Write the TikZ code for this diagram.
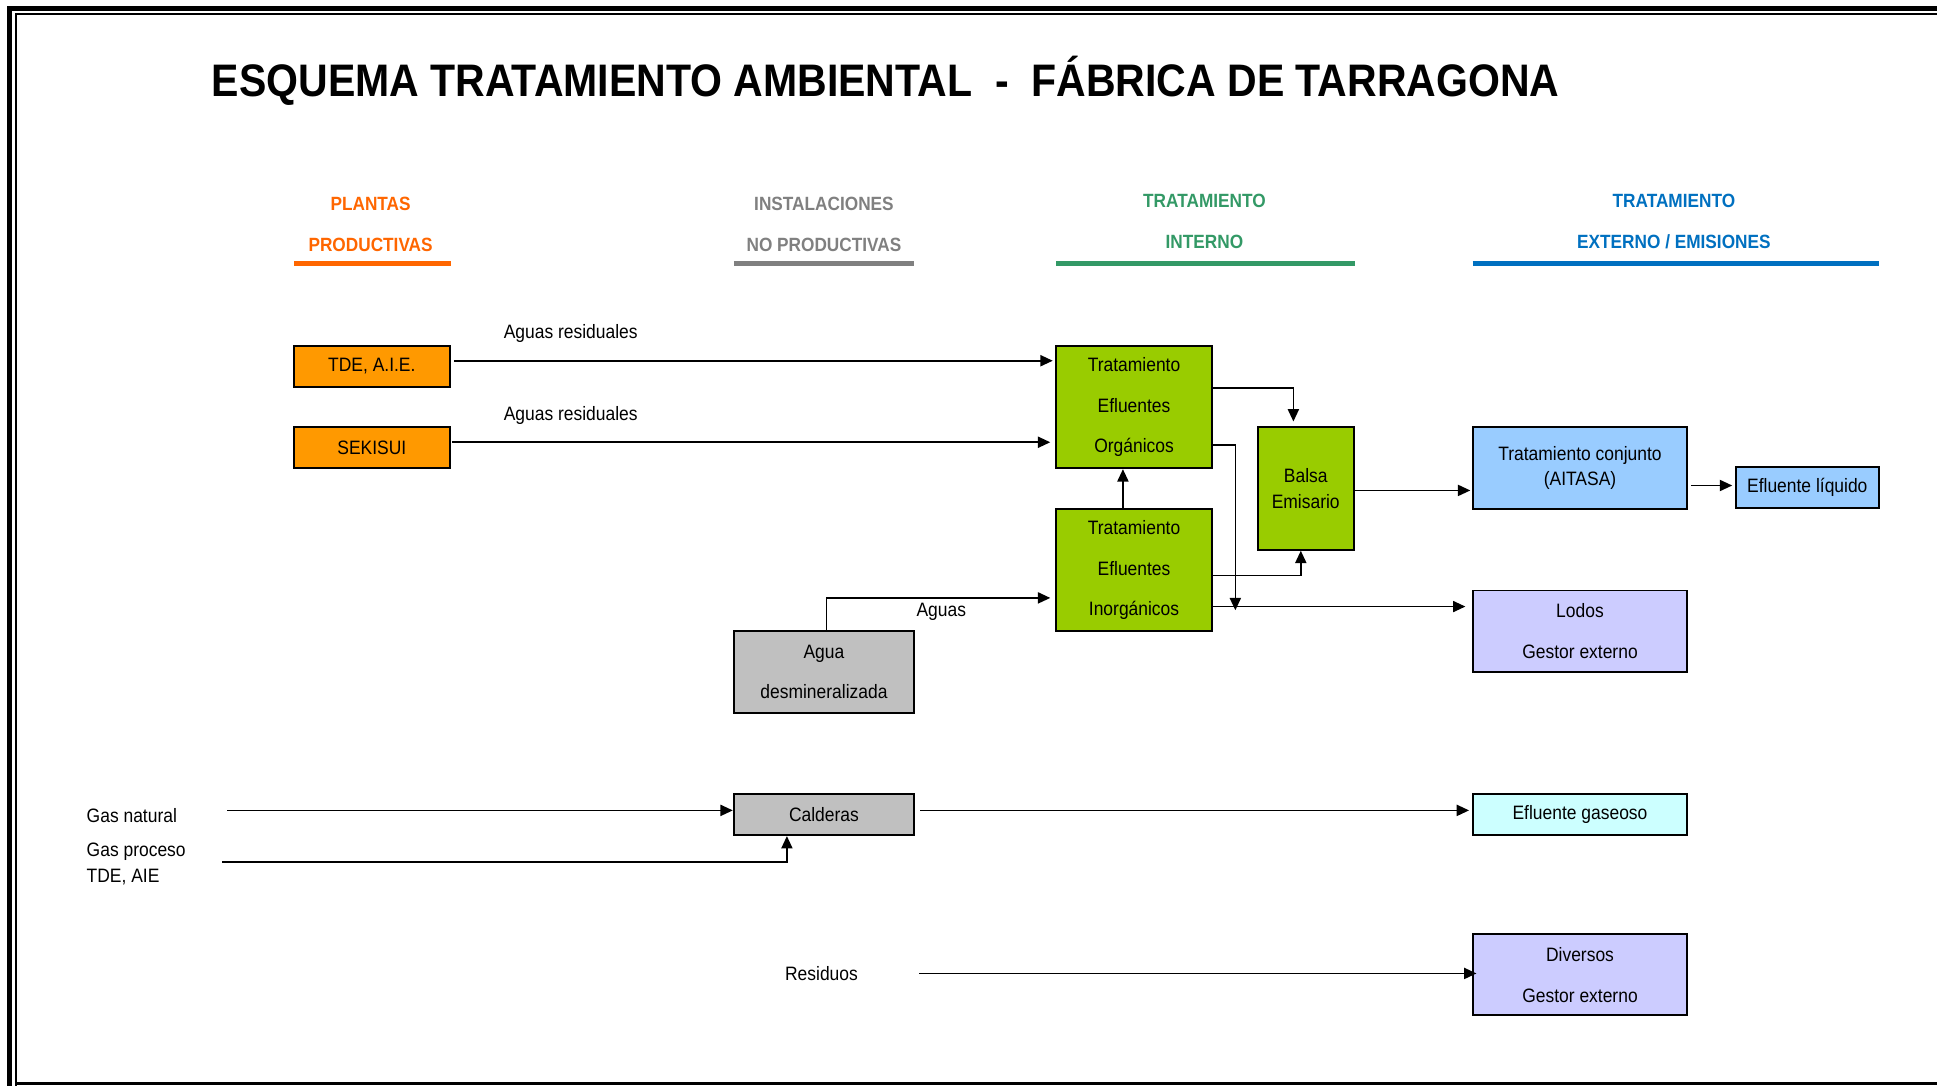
\documentclass[tikz,border=0pt]{standalone}
\usepackage{fontspec}
\setmainfont{Liberation Sans}[FakeStretch=0.9]
\usetikzlibrary{arrows.meta,positioning}

\definecolor{naranjaTxt}{HTML}{FF6600}
\definecolor{grisTxt}{HTML}{808080}
\definecolor{verdeTxt}{HTML}{339966}
\definecolor{azulTxt}{HTML}{0070C0}
\definecolor{naranja}{HTML}{FF9900}
\definecolor{verde}{HTML}{99CC00}
\definecolor{azul}{HTML}{99CCFF}
\definecolor{lila}{HTML}{CCCCFF}
\definecolor{celeste}{HTML}{CCFFFF}
\definecolor{gris}{HTML}{C0C0C0}

\begin{document}
\begin{tikzpicture}[
        x=1pt, y=-1pt,
        caja/.style={rectangle, draw=black, line width=1.6pt, inner sep=0pt, text centered, align=center, font=\fontsize{15.7}{33}\selectfont},
        cajaJunta/.style={caja, font=\fontsize{15.7}{20.5}\selectfont},
        planta/.style={caja, fill=naranja, minimum width=126pt, minimum height=33pt},
        interno/.style={caja, fill=verde, minimum width=126pt, minimum height=99pt},
        balsa/.style={cajaJunta, fill=verde, minimum width=78pt, minimum height=99pt},
        auxiliar/.style={caja, fill=gris, minimum width=146pt},
        externo/.style={caja, minimum width=174pt},
        etiqueta/.style={inner sep=0pt, align=left, font=\fontsize{15.7}{21}\selectfont},
        cabecera/.style={inner sep=0pt, align=center, font=\bfseries\fontsize{15.5}{33}\selectfont},
        subrayado/.style={line width=4pt},
        flecha/.style={line width=1.3pt, -{Triangle[length=10pt, width=9pt]}}
    ]
        \useasboundingbox (0,0) rectangle (1568,879);

        % marco
        \draw [line width=4pt] (7.5,879) -- (7.5,6.8) -- (1568,6.8);
        \draw [line width=1.5pt] (12.8,879) -- (12.8,11.6) -- (1568,11.6);
        \draw [line width=2.5pt] (12.8,877) -- (1568,877);

        \node (titulo) [inner sep=0pt, font=\bfseries\fontsize{36.9}{40}\selectfont] at (717,65) {ESQUEMA TRATAMIENTO AMBIENTAL\ \ -\ \ FÁBRICA DE TARRAGONA};

        % cabeceras de columna
        \node (cabPlantas) [cabecera, text=naranjaTxt] at (300,181.5) {PLANTAS\\PRODUCTIVAS};
        \node (cabInstal) [cabecera, text=grisTxt] at (667,181.5) {INSTALACIONES\\NO PRODUCTIVAS};
        \node (cabInterno) [cabecera, text=verdeTxt] at (975,179.5) {TRATAMIENTO\\INTERNO};
        \node (cabExterno) [cabecera, text=azulTxt] at (1355,179.5) {TRATAMIENTO\\EXTERNO / EMISIONES};
        \draw [subrayado, naranjaTxt] (238,213.5) -- (365,213.5);
        \draw [subrayado, grisTxt] (594,213.5) -- (740,213.5);
        \draw [subrayado, verdeTxt] (855,213.5) -- (1097,213.5);
        \draw [subrayado, azulTxt] (1192,213.5) -- (1521,213.5);

        % cajas
        \node (tde) [planta] at (301,296.5) {TDE, A.I.E.};
        \node (sekisui) [planta] at (301,362.5) {SEKISUI};
        \node (teo) [interno] at (918,329.5) {Tratamiento\\Efluentes\\Orgánicos};
        \node (tei) [interno] at (918,461.5) {Tratamiento\\Efluentes\\Inorgánicos};
        \node (balsa) [balsa] at (1057,395.5) {Balsa\\Emisario};
        \node (aitasa) [externo, cajaJunta, fill=azul, minimum height=66pt] at (1279,379) {Tratamiento conjunto\\(AITASA)};
        \node (liquido) [caja, fill=azul, minimum width=116pt, minimum height=33pt] at (1463,394.5) {Efluente líquido};
        \node (lodos) [externo, fill=lila, minimum height=66pt] at (1279,511) {Lodos\\Gestor externo};
        \node (agua) [auxiliar, minimum height=66pt] at (667,544) {Agua\\desmineralizada};
        \node (calderas) [auxiliar, minimum height=33pt] at (667,659.5) {Calderas};
        \node (gaseoso) [externo, fill=celeste, minimum height=33pt] at (1279,659.5) {Efluente gaseoso};
        \node (diversos) [externo, fill=lila, minimum height=66pt] at (1279,789) {Diversos\\Gestor externo};

        % textos sueltos
        \node (lblAguasRes1) [etiqueta] at (462,270) {Aguas residuales};
        \node (lblAguasRes2) [etiqueta] at (462,336) {Aguas residuales};
        \node (lblAguas) [etiqueta] at (762,495) {Aguas};
        \node (lblGasNat) [etiqueta, anchor=west] at (70,660) {Gas natural};
        \node (lblGasProc) [etiqueta, anchor=west] at (70,699.5) {Gas proceso\\TDE, AIE};
        \node (lblResiduos) [etiqueta] at (665,788) {Residuos};

        \coordinate (junta) at (1000,494);
        \coordinate (gasNat) at (184,656);
        \coordinate (gasProc) at (180,698);
        \coordinate (residuos) at (744,788);

        % conexiones
        \draw [flecha, shorten <=3pt, shorten >=2pt] (tde.east |- 0,292) -- (teo.west |- 0,292);
        \draw [flecha, shorten <=1pt, shorten >=4pt] (sekisui.east |- 0,358) -- (teo.west |- 0,358);
        \draw [flecha] (tei.north -| 909,0) -- (teo.south -| 909,0);
        \draw [flecha, shorten >=4pt] (teo.east |- 0,314) -| ([xshift=-10pt]balsa.north);
        \draw [flecha] (teo.east |- 0,360) -| (junta);
        \draw [flecha] (tei.east |- 0,466) -| ([xshift=-4pt]balsa.south);
        \draw [flecha, shorten >=5pt] (tei.east |- 0,491) -- (lodos.west |- 0,491);
        \draw [flecha, shorten >=1pt] (balsa.east |- 0,397) -- (aitasa.west |- 0,397);
        \draw [flecha, shorten <=2pt, shorten >=2pt] (aitasa.east |- 0,393) -- (liquido.west |- 0,393);
        \draw [flecha, shorten >=4pt] (agua.north -| 669,0) |- (tei.west |- 0,484);
        \draw [flecha] (gasNat) -- (calderas.west |- 0,656);
        \draw [flecha] (gasProc) -| (calderas.south -| 637,0);
        \draw [flecha, shorten <=4pt, shorten >=2pt] (calderas.east |- 0,656) -- (gaseoso.west |- 0,656);
        \draw [flecha, shorten >=-4pt] (residuos) -- (diversos.west |- 0,788);
\end{tikzpicture}
\end{document}
